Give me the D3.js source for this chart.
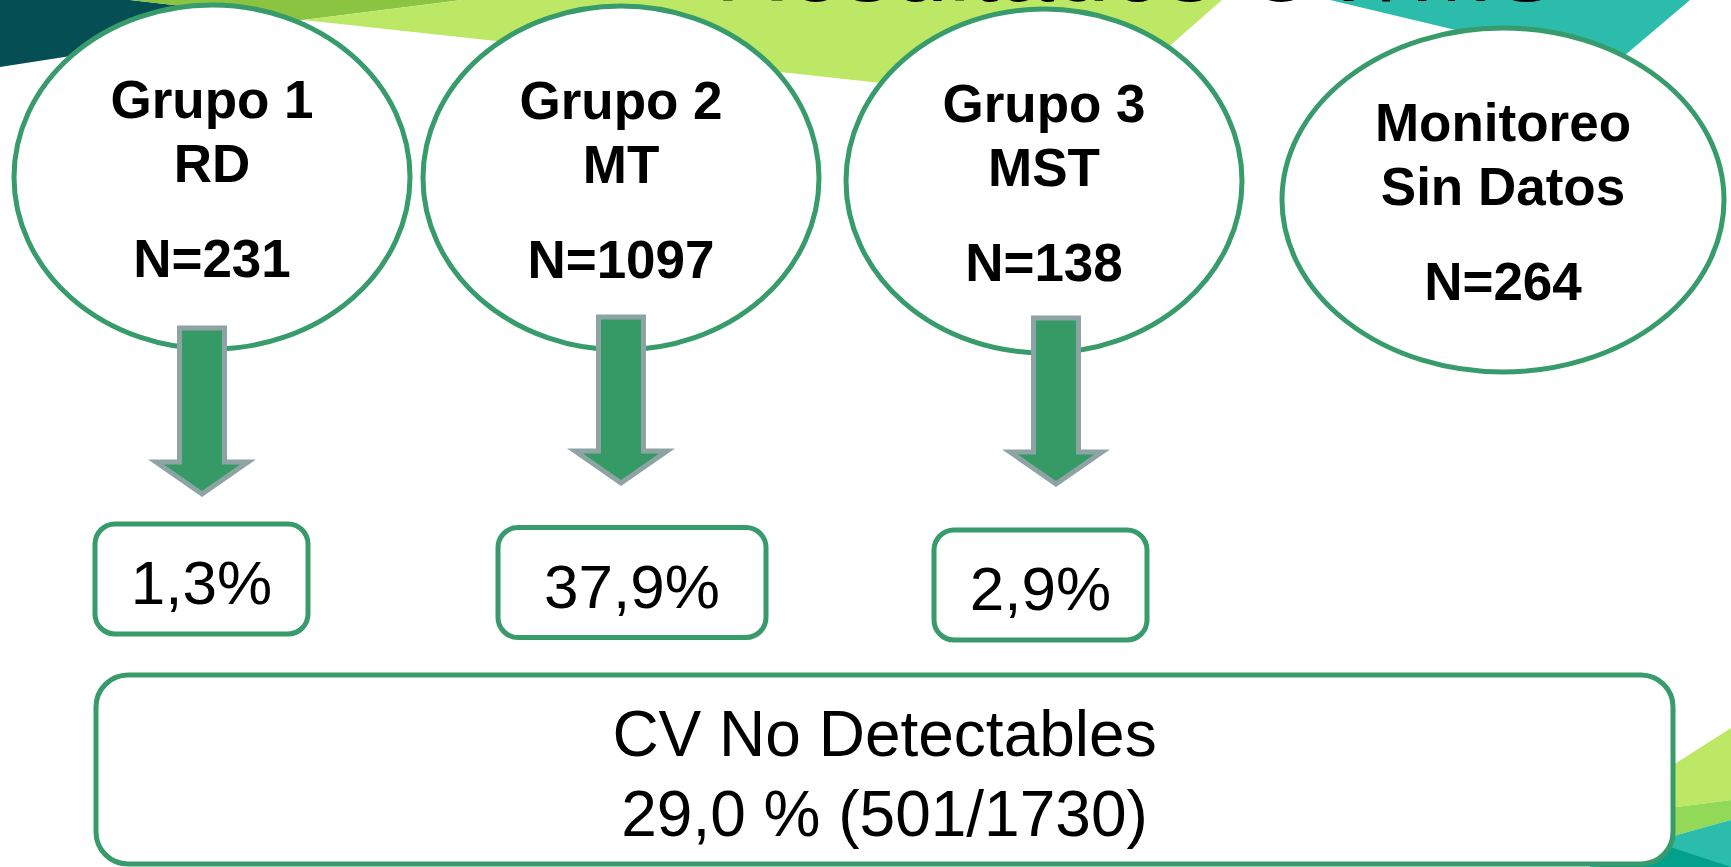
<!DOCTYPE html>
<html>
<head>
<meta charset="utf-8">
<script src="https://cdn.jsdelivr.net/npm/d3@7"></script>
<style>
  html, body { margin: 0; padding: 0; background: #ffffff; overflow: hidden; }
  svg { display: block; }
</style>
</head>
<body>
<div id="chart"></div>
<script>
// ---------------- DATA ----------------
const groupTitles = ["Grupo 1", "Grupo 2", "Grupo 3", "Monitoreo"];
const groupCodes  = ["RD", "MT", "MST", "Sin Datos"];
const groupN      = [231, 1097, 138, 264];
const pctUndetectable = [1.3, 37.9, 2.9];          // % CV no detectable per group 1-3
const totalLabel = "CV No Detectables";
const totalPct = 29.0;
const totalUndetectable = 501;
const totalPatients = 1730;
const titleText = "Resultados CV/MS";

// ---------------- LAYOUT ----------------
const W = 1731, H = 867;
const green = "#389b6b";
const arrowFill = "#369a67";
const arrowStroke = "#8ea3a4";

const svg = d3.select("#chart").append("svg")
  .attr("width", W).attr("height", H);

const fmt = v => d3.format(".1f")(v).replace(".", ",");

// ellipse positions (layout)
const ellX  = d3.scaleOrdinal().domain(groupTitles).range([212, 621, 1044, 1503]);
const ellY  = d3.scaleOrdinal().domain(groupTitles).range([177, 178, 181, 200]);
const ellRx = d3.scaleOrdinal().domain(groupTitles).range([198, 198, 198, 221]);
const ellRy = 172;

// arrows / boxes layout
const arrowX   = [202, 621, 1056];
const arrowTop = [328, 317, 318];
const boxX = [201.5, 632, 1040.5];
const boxW = [213, 268, 213];
const boxCY = [579, 582.5, 585];
const boxH = 110;

// ---------------- BACKGROUND SHAPES ----------------
const line = d3.line();
const bg = svg.append("g");
const shapes = [
  { c: "#054f54", p: [[0,0],[130,0],[303,20],[0,67]] },
  { c: "#8bc440", p: [[130,0],[462,0],[303,20]] },
  { c: "#bde866", p: [[462,0],[1222,0],[1100,107],[303,20]] },
  { c: "#2bbcac", p: [[1330,0],[1690,0],[1611,67]] },
  { c: "#bde866", p: [[1590,818],[1731,728],[1731,800]] },
  { c: "#92d957", p: [[1590,818],[1731,800],[1731,820],[1590,859]] },
  { c: "#2bbcac", p: [[1590,859],[1731,820],[1731,867],[1590,867]] },
  { c: "#03a08c", p: [[1600,824],[1731,867],[1600,867]] }
];
bg.selectAll("path").data(shapes).join("path")
  .attr("d", d => line(d.p) + "Z")
  .attr("fill", d => d.c);

// clipped slide title (only its lower edge is visible)
svg.append("text")
  .attr("x", 715).attr("y", 1)
  .attr("font-family", "Liberation Sans, Arial, sans-serif")
  .attr("font-size", 100)
  .attr("fill", "#000")
  .text(titleText);

// ---------------- ELLIPSES ----------------
const groups = svg.selectAll("g.grp").data(groupTitles).join("g").attr("class", "grp");
groups.append("ellipse")
  .attr("cx", d => ellX(d)).attr("cy", d => ellY(d))
  .attr("rx", d => ellRx(d)).attr("ry", ellRy)
  .attr("fill", "#fff").attr("stroke", green).attr("stroke-width", 5);

const lineOffsets = [-59, 5, 100];
groups.each(function(d, i) {
  const g = d3.select(this);
  const lines = [groupTitles[i], groupCodes[i], "N=" + groupN[i]];
  g.selectAll("text").data(lines).join("text")
    .attr("x", ellX(d))
    .attr("y", (t, j) => ellY(d) + lineOffsets[j])
    .attr("text-anchor", "middle")
    .attr("font-family", "Liberation Sans, Arial, sans-serif")
    .attr("font-weight", "bold")
    .attr("font-size", 53)
    .attr("fill", "#000")
    .text(t => t);
});

// ---------------- ARROWS ----------------
function arrowPath(cx, top) {
  const sw = 22.5, hw = 46, headTop = top + 134, tip = top + 166;
  return line([
    [cx - sw, top], [cx + sw, top], [cx + sw, headTop], [cx + hw, headTop],
    [cx, tip], [cx - hw, headTop], [cx - sw, headTop]
  ]) + "Z";
}
svg.selectAll("path.arrow").data(pctUndetectable).join("path")
  .attr("class", "arrow")
  .attr("d", (d, i) => arrowPath(arrowX[i], arrowTop[i]))
  .attr("fill", arrowFill).attr("stroke", arrowStroke).attr("stroke-width", 5);

// ---------------- RESULT BOXES ----------------
const boxes = svg.selectAll("g.box").data(pctUndetectable).join("g").attr("class", "box");
boxes.append("rect")
  .attr("x", (d, i) => boxX[i] - boxW[i] / 2)
  .attr("y", (d, i) => boxCY[i] - boxH / 2)
  .attr("width", (d, i) => boxW[i]).attr("height", boxH)
  .attr("rx", 20).attr("ry", 20)
  .attr("fill", "#fff").attr("stroke", green).attr("stroke-width", 5);
boxes.append("text")
  .attr("x", (d, i) => boxX[i])
  .attr("y", (d, i) => boxCY[i] + 25)
  .attr("text-anchor", "middle")
  .attr("font-family", "Liberation Sans, Arial, sans-serif")
  .attr("font-size", 62)
  .attr("fill", "#000")
  .text(d => fmt(d) + "%");

// ---------------- TOTAL BOX ----------------
svg.append("rect")
  .attr("x", 96).attr("y", 675).attr("width", 1577).attr("height", 189)
  .attr("rx", 32).attr("ry", 32)
  .attr("fill", "#fff").attr("stroke", green).attr("stroke-width", 5);
const totLines = [totalLabel, fmt(totalPct) + " % (" + totalUndetectable + "/" + totalPatients + ")"];
svg.selectAll("text.tot").data(totLines).join("text")
  .attr("class", "tot")
  .attr("x", 884.5)
  .attr("y", (d, i) => 756 + i * 80)
  .attr("text-anchor", "middle")
  .attr("font-family", "Liberation Sans, Arial, sans-serif")
  .attr("font-size", 64)
  .attr("fill", "#000")
  .text(d => d);
</script>
</body>
</html>
